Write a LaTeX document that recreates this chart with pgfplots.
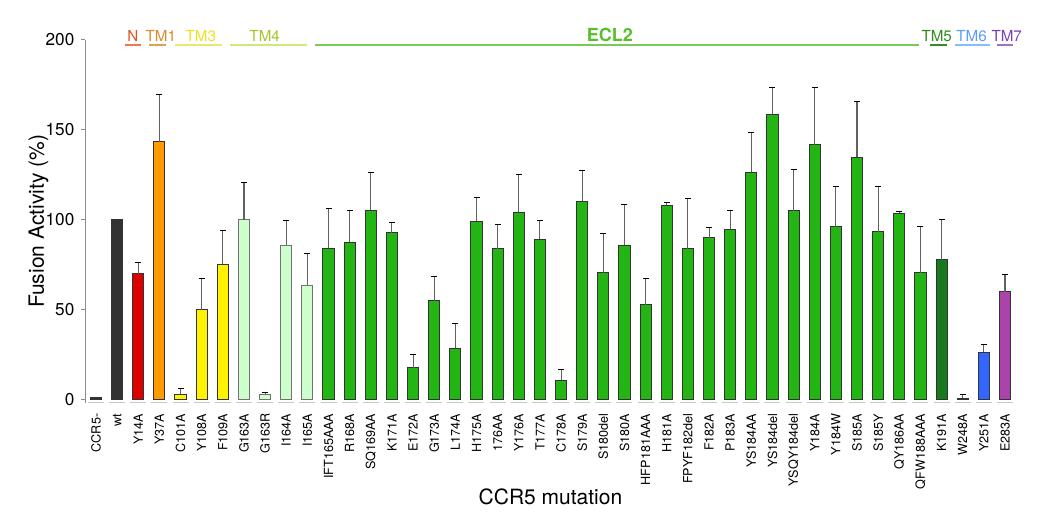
\documentclass[border=0pt]{standalone}
\usepackage{pgfplots}
\pgfplotsset{compat=1.18}
\usepackage{fontspec}
\setmainfont{TeX Gyre Heros}
\definecolor{cdark}{HTML}{333333}
\definecolor{cred}{HTML}{DD0000}
\definecolor{corange}{HTML}{FF9900}
\definecolor{cyellow}{HTML}{FFF200}
\definecolor{clight}{HTML}{CCFFCC}
\definecolor{cgreen}{HTML}{22B514}
\definecolor{cdkgreen}{HTML}{187A1E}
\definecolor{cblue}{HTML}{3366FF}
\definecolor{cpurple}{HTML}{AA44AA}
% annotation colours
\definecolor{lN}{HTML}{EE7755}\definecolor{tN}{HTML}{E0501E}
\definecolor{lTMa}{HTML}{E0A050}\definecolor{tTMa}{HTML}{D98B2B}
\definecolor{lTMc}{HTML}{E8E870}\definecolor{tTMc}{HTML}{ECE220}
\definecolor{lTMd}{HTML}{D0E878}\definecolor{tTMd}{HTML}{A0C828}
\definecolor{lECL}{HTML}{77CC55}\definecolor{tECL}{HTML}{55C02A}
\definecolor{lTMe}{HTML}{3A8A2A}\definecolor{tTMe}{HTML}{2E8B1A}
\definecolor{lTMf}{HTML}{88BBFF}\definecolor{tTMf}{HTML}{5A9BFF}
\definecolor{lTMg}{HTML}{9A70D0}\definecolor{tTMg}{HTML}{7A3DBF}
\pgfdeclareplotmark{rcap}{\pgfpathmoveto{\pgfqpoint{-0.4pt}{0pt}}\pgfpathlineto{\pgfqpoint{2.6pt}{0pt}}\pgfusepathqstroke}
\begin{document}
\begin{tikzpicture}
\useasboundingbox (-42.7pt,-58.15pt) rectangle (482.3pt,201.35pt);
\begin{axis}[
  scale only axis, width=465.1pt, height=181.35pt,
  xmin=-0.5, xmax=43.5, ymin=-1.5, ymax=200,
  clip=false,
  axis y line*=left, axis x line*=bottom,
  y axis line style={draw=black!45, line width=0.5pt, -},
  x axis line style={draw=black!22, line width=0.8pt, -, dash pattern=on 8pt off 2.57pt, dash phase=9.285pt},
  ytick={0,50,100,150,200},
  tick align=outside, major tick length=2pt,
  ytick style={draw=black!45, line width=0.5pt},
  xtick={0,...,43}, xtick style={draw=none},
  xticklabels={CCR5-,wt,Y14A,Y37A,C101A,Y108A,F109A,G163A,G163R,I164A,I165A,IFT165AAA,R168A,SQ169AA,K171A,E172A,G173A,L174A,H175A,176AA,Y176A,T177A,C178A,S179A,S180del,S180A,HFP181AAA,H181A,FPYF182del,F182A,P183A,YS184AA,YS184del,YSQY184del,Y184A,Y184W,S185A,S185Y,QY186AA,QFW188AAA,K191A,W248A,Y251A,E283A},
  xticklabel style={rotate=90, anchor=east, font=\fontsize{6.3}{7}\selectfont},
  yticklabel style={font=\fontsize{8.6}{10}\selectfont},
  /pgf/number format/assume math mode=true,
  ylabel={Fusion Activity (\%)},
  xlabel={CCR5 mutation},
  ylabel style={at={(axis description cs:-0.0505,0.5)}, anchor=center, font=\fontsize{10.5}{12}\selectfont},
  xlabel style={at={(axis description cs:0.5,-0.259)}, anchor=center, font=\fontsize{10.5}{12}\selectfont},
  ybar, bar width=5.6pt, bar shift=0pt,
  every axis plot/.append style={draw=cdark, line width=0.5pt},
  error bars/y dir=plus, error bars/y explicit,
  error bars/error mark=rcap,
  error bars/error bar style={draw=black!62, line width=0.55pt, solid},
]
% controls
\addplot[fill=cdark, draw=cdark] coordinates {(0,1.5) (1,100)};
% N
\addplot[fill=cred, error bars/.cd, y dir=plus, y explicit, error mark=rcap] coordinates {(2,70.2) +- (0,6.3)};
% TM1
\addplot[fill=corange, error bars/.cd, y dir=plus, y explicit, error mark=rcap] coordinates {(3,143.5) +- (0,26)};
% TM3
\addplot[fill=cyellow, error bars/.cd, y dir=plus, y explicit, error mark=rcap] coordinates {(4,3.3) +- (0,3) (5,50.2) +- (0,17.2) (6,75.4) +- (0,19)};
% TM4
\addplot[fill=clight, draw=black!55, error bars/.cd, y dir=plus, y explicit, error mark=rcap] coordinates {(7,100) +- (0,21) (8,2.8) +- (0,1.6) (9,86) +- (0,14) (10,63.7) +- (0,17.6)};
% ECL2
\addplot[fill=cgreen, error bars/.cd, y dir=plus, y explicit, error mark=rcap] coordinates {
(11,84.3) +- (0,22.2) (12,87.6) +- (0,18) (13,105.4) +- (0,21.3) (14,93) +- (0,5.7)
(15,17.8) +- (0,7.8) (16,55.2) +- (0,13.7) (17,28.7) +- (0,13.9) (18,99.4) +- (0,13.2)
(19,83.9) +- (0,13.5) (20,104.3) +- (0,21.1) (21,89.4) +- (0,10.2) (22,11.1) +- (0,5.9)
(23,110.4) +- (0,17.2) (24,70.7) +- (0,22.1) (25,85.9) +- (0,22.8) (26,52.8) +- (0,14.8)
(27,108.3) +- (0,1.3) (28,84.1) +- (0,28.1) (29,90.2) +- (0,5.7) (30,94.8) +- (0,10.4)
(31,126.5) +- (0,22.4) (32,158.7) +- (0,15) (33,105) +- (0,23.1) (34,141.7) +- (0,32)
(35,96.3) +- (0,22.6) (36,134.8) +- (0,31.1) (37,93.5) +- (0,25.4) (38,103.7) +- (0,1.3)
(39,70.7) +- (0,25.8)};
% TM5
\addplot[fill=cdkgreen, error bars/.cd, y dir=plus, y explicit, error mark=rcap] coordinates {(40,77.8) +- (0,22.6)};
% TM6
\addplot[fill=cblue, error bars/.cd, y dir=plus, y explicit, error mark=rcap] coordinates {(41,1.1) +- (0,1.9) (42,26.5) +- (0,4.6)};
% TM7
\addplot[fill=cpurple, error bars/.cd, y dir=plus, y explicit, error mark=rcap] coordinates {(43,60.2) +- (0,9.6)};
% region annotation anchors
\coordinate (a1) at (axis cs:1.37,197);  \coordinate (b1) at (axis cs:2.11,197);  \coordinate (t1) at (axis cs:1.74,199.4);
\coordinate (a2) at (axis cs:2.52,197);  \coordinate (b2) at (axis cs:3.30,197);  \coordinate (t2) at (axis cs:3.07,199.4);
\coordinate (a3) at (axis cs:3.74,197);  \coordinate (b3) at (axis cs:5.97,197);  \coordinate (t3) at (axis cs:4.96,199.4);
\coordinate (a4) at (axis cs:6.34,197);  \coordinate (b4) at (axis cs:9.97,197);  \coordinate (t4) at (axis cs:7.98,199.4);
\coordinate (a5) at (axis cs:10.36,197); \coordinate (b5) at (axis cs:38.93,197); \coordinate (t5) at (axis cs:24.31,199.4);
\coordinate (a6) at (axis cs:39.45,197); \coordinate (b6) at (axis cs:40.24,197); \coordinate (t6) at (axis cs:39.77,199.4);
\coordinate (a7) at (axis cs:40.63,197); \coordinate (b7) at (axis cs:42.29,197); \coordinate (t7) at (axis cs:41.42,199.4);
\coordinate (a8) at (axis cs:42.6,197);  \coordinate (b8) at (axis cs:43.39,197); \coordinate (t8) at (axis cs:43.08,199.4);
\end{axis}
\fill[fill=lN]   ([yshift=-0.45pt]a1) rectangle ([yshift=0.45pt]b1);
\fill[fill=lTMa] ([yshift=-0.45pt]a2) rectangle ([yshift=0.45pt]b2);
\fill[fill=lTMc] ([yshift=-0.45pt]a3) rectangle ([yshift=0.45pt]b3);
\fill[fill=lTMd] ([yshift=-0.45pt]a4) rectangle ([yshift=0.45pt]b4);
\fill[fill=lECL] ([yshift=-0.45pt]a5) rectangle ([yshift=0.45pt]b5);
\fill[fill=lTMe] ([yshift=-0.45pt]a6) rectangle ([yshift=0.45pt]b6);
\fill[fill=lTMf] ([yshift=-0.45pt]a7) rectangle ([yshift=0.45pt]b7);
\fill[fill=lTMg] ([yshift=-0.45pt]a8) rectangle ([yshift=0.45pt]b8);
\node[anchor=base, text=tN,   font=\fontsize{7.6}{9}\selectfont, inner sep=0pt] at (t1) {N};
\node[anchor=base, text=tTMa, font=\fontsize{7.6}{9}\selectfont, inner sep=0pt] at (t2) {TM1};
\node[anchor=base, text=tTMc, font=\fontsize{7.6}{9}\selectfont, inner sep=0pt] at (t3) {TM3};
\node[anchor=base, text=tTMd, font=\fontsize{7.6}{9}\selectfont, inner sep=0pt] at (t4) {TM4};
\node[anchor=base, text=tECL, font=\bfseries\fontsize{9}{10}\selectfont, inner sep=0pt] at (t5) {ECL2};
\node[anchor=base, text=tTMe, font=\fontsize{7.6}{9}\selectfont, inner sep=0pt] at (t6) {TM5};
\node[anchor=base, text=tTMf, font=\fontsize{7.6}{9}\selectfont, inner sep=0pt] at (t7) {TM6};
\node[anchor=base, text=tTMg, font=\fontsize{7.6}{9}\selectfont, inner sep=0pt] at (t8) {TM7};
\end{tikzpicture}
\end{document}
